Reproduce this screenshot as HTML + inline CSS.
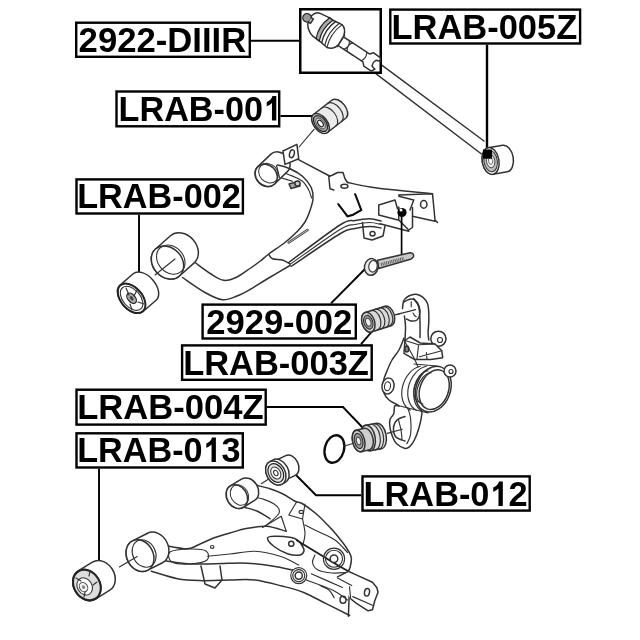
<!DOCTYPE html>
<html><head><meta charset="utf-8">
<style>
html,body{margin:0;padding:0;background:#fff;width:640px;height:640px;overflow:hidden}
svg{display:block}
.lb{font-family:"Liberation Sans",sans-serif;font-weight:bold;font-size:35.5px;fill:#000}
.bx{fill:#fff;stroke:#000;stroke-width:2.4}
.ld{fill:none;stroke:#000;stroke-width:1.9}
.d{fill:none;stroke:#333;stroke-width:1.5;stroke-linejoin:round;stroke-linecap:round}
.dt{fill:none;stroke:#333;stroke-width:1.15;stroke-linejoin:round;stroke-linecap:round}
.w{fill:#fff}
</style></head><body>
<svg width="640" height="640" viewBox="0 0 640 640">
<defs><filter id="bl" x="-5%" y="-5%" width="110%" height="110%"><feGaussianBlur stdDeviation="0.35"/></filter></defs>
<g filter="url(#bl)">
<g id="leaders">
<path class="ld" d="M251 40.8H300"/>
<path class="ld" d="M487 44.7V150" style="stroke-width:2.4"/>
<path class="ld" d="M280.4 116H313"/>
<path class="ld" d="M139 214.7V272"/>
<path class="ld" d="M331 303.4L365 269"/>
<path class="ld" d="M361 344.2L372 331.5"/>
<path class="ld" d="M266.9 407H343L363 428"/>
<path class="ld" d="M99 468.7V561"/>
<path class="ld" d="M361.3 495.2H316L296 475"/>
</g>
<path class="d" d="M370 56.3 L484 141"/>
<path class="d" d="M364 64.7 L481.5 154"/>
<rect x="300.25" y="9.25" width="80.5" height="63.5" style="fill:#fff;stroke:#000;stroke-width:2.5"/>
<g transform="translate(307,17.8) rotate(33.4)">
<path class="d" style="fill:#fff" d="M40 -4.2L72 -4.2L75 -7.5 L83 -7 L85 -4 L81 -2.5 Q79 1 81 4.5 L85 5.5 L83 9 L74 9 L71 6 L40 6 Z"/>
<path class="dt" d="M48 -4.2 Q52 0.8 48 6 M52 -4.2 Q48 0.8 52 6 M69 -4.2 Q72 0.8 69 6"/>
<path class="d" style="fill:#fff" d="M33 -9 L41 -6 L41 7.5 L33 10 Z"/>
<ellipse class="d" cx="37" cy="0.6" rx="3.5" ry="7.5" style="fill:#fff"/>
<path class="d" style="fill:#fff" d="M2.7 -4.5 Q4 -10 8 -10.8 L19 -12.5 L23 -12.2 L33 -13.6 Q39 -12 40.6 -5.2 L41 5 Q40 12 33 13.8 L24 12.6 L14.5 12 Q8 10.5 4 4.7 Z"/>
<path d="M19 -12.5 Q14 0.5 19 12.3 L23 12.5 Q18 0.5 23 -12.2 Z" style="fill:#aaa;stroke:#222;stroke-width:1.2"/>
<path class="d" d="M26 -12.8 Q21 0.5 26 12.8"/>
<path class="dt" d="M30 -13.3 Q25 0.5 30 13.3"/>
<path class="dt" d="M33 -13.6 Q28 0.5 33 13.8"/>
<circle cx="0" cy="0" r="4.2" style="fill:#999;stroke:#222;stroke-width:1.3"/>
<path class="d" style="fill:#ccc" d="M3.8 -2.5 L6 -2.5 L6 2.8 L3.8 2.8"/>
</g>
<path class="d" style="fill:#fff" d="M492.91 174.3L507.31 171.8A8.37 13.5 -9.85 0 0 502.69 145.2L488.29 147.7A8.37 13.5 -9.85 0 0 492.91 174.3Z"/>
<ellipse class="d" style="fill:#fff" cx="490.6" cy="161" rx="8.37" ry="13.5" transform="rotate(-9.85 490.6 161)"/>
<ellipse style="fill:#bbb;stroke:#333;stroke-width:1" cx="490.6" cy="161" rx="6.7" ry="10.8" transform="rotate(-9.85 490.6 161)"/>
<ellipse style="fill:#eee;stroke:#444;stroke-width:0.9" cx="490.6" cy="161" rx="4.18" ry="6.75" transform="rotate(-9.85 490.6 161)"/>
<ellipse style="fill:#fff;stroke:#555;stroke-width:0.8" cx="490.6" cy="161" rx="2.09" ry="3.38" transform="rotate(-9.85 490.6 161)"/>
<rect x="483" y="149.5" width="9" height="9.2" style="fill:#000"/>
<path class="d" d="M195.00 262.50C197.67 264.42 206.21 271.03 211.00 274.00C215.79 276.97 219.58 279.72 223.75 280.30C227.92 280.88 231.62 279.47 236.00 277.50C240.38 275.53 246.00 271.21 250.00 268.50C254.00 265.79 256.88 263.67 260.00 261.25C263.12 258.83 264.58 257.12 268.75 254.00C272.92 250.88 280.21 246.29 285.00 242.50C289.79 238.71 294.17 234.67 297.50 231.25C300.83 227.83 303.00 225.21 305.00 222.00C307.00 218.79 308.17 215.83 309.50 212.00C310.83 208.17 312.71 203.08 313.00 199.00C313.29 194.92 313.00 191.29 311.25 187.50C309.50 183.71 305.83 179.27 302.50 176.25C299.17 173.23 295.62 171.38 291.25 169.40C286.88 167.43 278.75 165.23 276.25 164.40"/>
<path class="d" d="M182.50 277.50C186.25 280.00 198.33 288.78 205.00 292.50C211.67 296.22 217.17 299.22 222.50 299.80C227.83 300.38 232.42 297.72 237.00 296.00C241.58 294.28 244.92 292.38 250.00 289.50C255.08 286.62 260.83 282.75 267.50 278.75C274.17 274.75 286.25 267.71 290.00 265.50"/>
<path class="d" d="M268.75 254.50C269.38 255.21 270.21 257.83 272.50 258.75C274.79 259.67 279.58 259.12 282.50 260.00C285.42 260.88 288.75 263.33 290.00 264.00"/>
<path class="dt" d="M278.75 171.25C280.83 171.97 287.29 173.93 291.25 175.60C295.21 177.27 299.58 178.85 302.50 181.25C305.42 183.65 307.25 187.21 308.75 190.00C310.25 192.79 311.04 196.67 311.50 198.00"/>
<path class="dt" d="M280.00 177.50C282.08 178.12 290.42 180.62 292.50 181.25"/>
<path class="dt" d="M277 165 L280 177.5"/>
<path d="M288.75 242.5 L307.5 230" style="stroke:#444;stroke-width:2.6;stroke-linecap:round"/>
<path d="M288.75 242.5 L307.5 230" style="stroke:#ddd;stroke-width:0.8;stroke-linecap:round"/>
<path class="d" d="M288.75 262.50C297.29 256.25 328.96 232.00 340.00 225.00C351.04 218.00 350.00 221.54 355.00 220.50C360.00 219.46 365.67 218.67 370.00 218.75C374.33 218.83 379.17 220.62 381.00 221.00"/>
<path class="dt" d="M290.00 264.40C298.33 258.57 329.17 236.05 340.00 229.40C350.83 222.75 350.00 225.65 355.00 224.50C360.00 223.35 365.67 222.50 370.00 222.50C374.33 222.50 379.17 224.17 381.00 224.50"/>
<path class="d" d="M291.25 266.25C299.38 260.83 329.38 240.04 340.00 233.75C350.62 227.46 350.00 229.71 355.00 228.50C360.00 227.29 365.67 226.58 370.00 226.50C374.33 226.42 379.17 227.75 381.00 228.00"/>
<path class="d" d="M298 159.4 L330 176.25"/>
<path class="d" d="M347.50 182.50C351.25 183.23 361.25 185.55 370.00 186.90C378.75 188.25 389.58 189.46 400.00 190.60C410.42 191.74 427.08 193.22 432.50 193.75"/>
<path class="d" d="M328.75 176.25 L330 188.75 L333.75 190 M332.5 175 L337.5 172.5 L343 172.5 L345 178.75 L347.5 182.5 M330 176 L333 175"/>
<ellipse class="d" style="fill:#fff" cx="344.4" cy="186.25" rx="3.5" ry="2" transform="rotate(0 344.4 186.25)"/>
<path class="d" d="M398.75 195 L432.5 193.75 L435 220 L437.5 222.5 M435 221.25 L412.5 216.25 M398.75 196.25 L413.75 200 L410 210"/>
<ellipse class="d" style="fill:none" cx="423.75" cy="204.4" rx="3.2" ry="3.8" transform="rotate(0 423.75 204.4)"/>
<path class="d" d="M378.75 205 L395 200 L397.5 208.75 M378.75 205 L378.75 215 L398 220 M398.75 207 L398.75 220 L408.75 230 L412.5 227.5 L412.5 207.5 M380 223.75 L408.75 231.25"/>
<path class="d" d="M338 203.75 L347.5 216.25 L352.5 215 L361.25 210 L355 193.75"/>
<path d="M338 203.75 L347.5 216.25 L352.5 215 L361.25 210 L355 193.75" style="fill:none;stroke:#111;stroke-width:2"/>
<path class="d" d="M362.5 222.5 L364 238 L372 240 L383 236 L385 226"/>
<ellipse class="d" style="fill:none" cx="372.5" cy="233.75" rx="2.5" ry="2.2" transform="rotate(0 372.5 233.75)"/>
<path d="M401.6 212 V256" style="stroke:#000;stroke-width:1.7"/>
<circle cx="402" cy="212.5" r="4.6" style="fill:#000"/>
<circle cx="401" cy="210" r="1.5" style="fill:#fff"/>
<path class="d" style="fill:#c8c8c8" d="M377.5 260.2 L410 252.8 Q414.5 253 413.5 256.8 L411.25 259 L378.75 268.5 Z"/>
<path d="M381 264.5 L404 258.5" style="stroke:#555;stroke-width:3.2;stroke-dasharray:0.9 0.9"/>
<ellipse class="d" style="fill:#e8e8e8" cx="371.25" cy="266.9" rx="6.8" ry="8.4" transform="rotate(10 371.25 266.9)"/>
<ellipse class="dt" style="fill:#fff" cx="373" cy="266.3" rx="4.2" ry="5.8" transform="rotate(10 373 266.3)"/>
<path class="d" style="fill:#fff" d="M274.58 183.94L287.33 171.64A10.2 12 -43.97 0 0 270.67 154.36L257.92 166.66A10.2 12 -43.97 0 0 274.58 183.94Z"/>
<ellipse class="d" style="fill:#fff" cx="266.25" cy="175.3" rx="10.2" ry="12" transform="rotate(-43.97 266.25 175.3)"/>
<ellipse style="fill:none;stroke:#333;stroke-width:1" cx="268.45" cy="173.18" rx="8.98" ry="10.56" transform="rotate(-43.97 268.45 173.18)"/>
<path class="d" style="fill:#fff" d="M283 151 L296.9 144.4 L298.75 158.75 L285 164.4 Z"/>
<ellipse class="d" style="fill:none" cx="291.9" cy="153.75" rx="2.3" ry="4" transform="rotate(15 291.9 153.75)"/>
<path class="d" style="fill:#aaa" d="M289 184 L298 181.5 L300 186 L291 188.5 Z"/>
<circle cx="297.5" cy="183.5" r="2.6" class="d" style="fill:#ccc"/>
<path class="d" d="M277.50 165.00C278.58 165.25 281.71 165.77 284.00 166.50C286.29 167.23 289.08 168.40 291.25 169.40C293.42 170.40 296.04 171.98 297.00 172.50"/>
<path class="dt" d="M276.5 165.5 L279.5 177.5"/>
<path class="d" style="fill:#fff" d="M179.48 275.94L194.18 262.84A14.58 18 -41.71 0 0 170.22 235.96L155.52 249.06A14.58 18 -41.71 0 0 179.48 275.94Z"/>
<ellipse class="d" style="fill:#fff" cx="167.5" cy="262.5" rx="14.58" ry="18" transform="rotate(-41.71 167.5 262.5)"/>
<ellipse style="fill:none;stroke:#333;stroke-width:1.1" cx="170.77" cy="259.59" rx="12.83" ry="15.84" transform="rotate(-41.71 170.77 259.59)"/>
<path class="d" style="fill:#ebebeb" d="M327.53 132.47L346.03 117.97A6.84 11.4 -38.09 0 0 331.97 100.03L313.47 114.53A6.84 11.4 -38.09 0 0 327.53 132.47Z"/>
<path class="dt" d="M335.86 125.95A6.84 11.4 -38.09 0 0 321.79 108"/>
<path class="dt" d="M341.41 121.6A6.84 11.4 -38.09 0 0 327.34 103.65"/>
<ellipse class="d" style="fill:#ebebeb" cx="320.5" cy="123.5" rx="6.84" ry="11.4" transform="rotate(-38.09 320.5 123.5)"/>
<ellipse style="fill:#aaa;stroke:#222;stroke-width:1.2" cx="320.5" cy="123.5" rx="5.47" ry="9.12" transform="rotate(-38.09 320.5 123.5)"/>
<ellipse style="fill:#ddd;stroke:#444;stroke-width:0.9" cx="320.5" cy="123.5" rx="3.76" ry="6.27" transform="rotate(-38.09 320.5 123.5)"/>
<ellipse style="fill:#fff;stroke:#222;stroke-width:1.2" cx="320.5" cy="123.5" rx="2.19" ry="3.65" transform="rotate(-38.09 320.5 123.5)"/>
<path class="dt" d="M314 129.4 L299 147"/>
<path class="d" style="fill:#fff" d="M143.08 311.51L156.08 300.21A10.85 17.5 -41 0 0 133.12 273.79L120.12 285.09A10.85 17.5 -41 0 0 143.08 311.51Z"/>
<ellipse class="d" style="fill:#fff" cx="131.6" cy="298.3" rx="10.85" ry="17.5" transform="rotate(-41 131.6 298.3)"/>
<ellipse style="fill:none;stroke:#222;stroke-width:1.6" cx="131.6" cy="298.3" rx="10.52" ry="16.97" transform="rotate(-41 131.6 298.3)"/>
<ellipse style="fill:#fff;stroke:#333;stroke-width:1.1" cx="131.6" cy="298.3" rx="8.68" ry="14" transform="rotate(-41 131.6 298.3)"/>
<ellipse style="fill:#aaa;stroke:#222;stroke-width:1.2" cx="131.6" cy="298.3" rx="3.69" ry="5.95" transform="rotate(-41 131.6 298.3)"/>
<ellipse style="fill:#444;stroke:none" cx="131.6" cy="298.3" rx="1.52" ry="2.45" transform="rotate(-41 131.6 298.3)"/>
<path class="dt" d="M126 288 L129 295 M137 290 L134 296 M130 304 L132 310 M138 302 L144 304"/>
<path class="dt" d="M155 275 L175 259"/>
<path class="d" d="M404.00 338.00C403.17 340.00 401.00 346.33 399.00 350.00C397.00 353.67 394.00 356.50 392.00 360.00C390.00 363.50 388.42 367.50 387.00 371.00C385.58 374.50 384.00 377.33 383.50 381.00C383.00 384.67 383.08 389.83 384.00 393.00C384.92 396.17 387.00 398.17 389.00 400.00C391.00 401.83 394.33 403.00 396.00 404.00C397.67 405.00 398.50 405.67 399.00 406.00"/>
<path class="d" d="M399.00 406.00C398.28 406.00 395.57 404.71 394.70 406.00C393.82 407.29 394.53 411.52 393.75 413.75C392.97 415.98 390.62 417.06 390.00 419.40C389.38 421.74 389.53 424.83 390.00 427.80C390.47 430.77 391.70 434.54 392.80 437.20C393.90 439.86 394.57 441.88 396.60 443.75C398.63 445.62 402.82 447.92 405.00 448.40C407.18 448.88 408.13 448.00 409.70 446.60C411.27 445.20 412.85 443.13 414.40 440.00C415.95 436.87 417.75 432.18 419.00 427.80C420.25 423.43 421.57 416.72 421.90 413.75C422.23 410.78 421.15 410.62 421.00 410.00"/>
<path class="dt" d="M407.80 408.00C408.27 409.73 410.13 414.00 410.60 418.40C411.07 422.80 411.22 430.17 410.60 434.40C409.98 438.62 407.52 442.19 406.90 443.75"/>
<path class="d" d="M402.50 308.60C402.71 307.25 402.71 302.60 403.75 300.50C404.79 298.40 406.67 297.04 408.75 296.00C410.83 294.96 413.88 294.02 416.25 294.25C418.62 294.48 421.12 295.84 423.00 297.40C424.88 298.96 426.54 301.00 427.50 303.60C428.46 306.20 428.54 309.85 428.75 313.00C428.96 316.15 428.86 319.25 428.75 322.50C428.64 325.75 428.10 329.58 428.10 332.50C428.10 335.42 428.64 338.75 428.75 340.00"/>
<path class="d" d="M404.40 316.00C404.58 317.71 405.40 322.25 405.50 326.25C405.60 330.25 405.08 337.71 405.00 340.00"/>
<path class="d" d="M413.75 298.60C414.58 299.96 417.71 302.85 418.75 306.75C419.79 310.65 419.79 316.88 420.00 322.00C420.21 327.12 420.00 334.92 420.00 337.50"/>
<path class="d" d="M404.00 302.00C404.83 301.58 407.33 299.92 409.00 299.50C410.67 299.08 412.33 298.42 414.00 299.50C415.67 300.58 418.03 303.58 419.00 306.00C419.97 308.42 420.13 311.67 419.80 314.00C419.47 316.33 418.47 318.83 417.00 320.00C415.53 321.17 412.75 321.17 411.00 321.00C409.25 320.83 407.25 319.33 406.50 319.00"/>
<path class="dt" d="M411.25 301.75 L411.25 306.75"/>
<path class="dt" d="M413.00 313.00C413.25 313.42 413.96 314.88 414.50 315.50C415.04 316.12 415.96 316.54 416.25 316.75"/>
<path class="dt" d="M395 314.9 L415.6 309.6"/>
<circle cx="438.4" cy="338.75" r="7.6" class="d" style="fill:#fff"/>
<circle cx="440" cy="340" r="2.5" class="dt" style="fill:#fff"/>
<path class="d" style="fill:#fff" d="M404.9 340.5 L410 337 L420.3 343 L435 344 L441.8 350.8 L442.7 357.7 L430.7 359.4 L414.3 359.4 L404 353.4 Z"/>
<path class="dt" d="M404.9 340.5 L418.6 344.8 L435 344 M418.6 344.8 L416.9 359.4 M426.4 352.5 L427 359.4 M419.5 356.8 L441.8 350.8"/>
<ellipse class="d" style="fill:#888" cx="406.8" cy="349" rx="2" ry="3" transform="rotate(0 406.8 349)"/>
<path class="dt" d="M420.3 366.2 A17.1 23.5 20 0 0 410.3 410.2"/>
<path class="dt" d="M426.3 366.2 A17.1 23.5 20 0 0 416.3 410.2"/>
<path class="dt" d="M432.3 367.2 A17.1 23.5 20 0 0 422.3 411.2"/>
<path class="dt" d="M414 364 L437 366"/>
<path class="dt" d="M400 406 L428 413"/>
<path class="dt" d="M404.00 340.00C405.67 343.00 411.67 353.50 414.00 358.00C416.33 362.50 417.33 365.50 418.00 367.00"/>
<ellipse class="d" style="fill:#fff" cx="433.3" cy="389.2" rx="17.1" ry="23.5" transform="rotate(20 433.3 389.2)"/>
<ellipse class="d" style="fill:#fff" cx="434.2" cy="389.6" rx="14.2" ry="20.5" transform="rotate(20 434.2 389.6)"/>
<path class="dt" d="M428 371 A8 14 20 0 0 420 402"/>
<path class="dt" d="M431 373 A8 14 20 0 0 423 404"/>
<circle cx="450" cy="371" r="6" class="d" style="fill:#fff"/>
<circle cx="451" cy="371.5" r="2" class="dt" style="fill:#fff"/>
<ellipse class="d" style="fill:#fff" cx="388" cy="386" rx="6" ry="8" transform="rotate(10 388 386)"/>
<ellipse class="dt" style="fill:#fff" cx="387.5" cy="386.25" rx="3" ry="4.5" transform="rotate(10 387.5 386.25)"/>
<path class="d" d="M405.00 416.50C403.67 417.08 398.92 418.08 397.00 420.00C395.08 421.92 393.67 425.17 393.50 428.00C393.33 430.83 394.08 434.83 396.00 437.00C397.92 439.17 403.50 440.33 405.00 441.00"/>
<path class="dt" d="M398.50 420.00C398.92 421.67 400.42 426.83 401.00 430.00C401.58 433.17 401.83 437.50 402.00 439.00"/>
<path class="dt" d="M387.2 433.4 L402.2 429.2"/>
<path class="d" style="fill:#dadada" d="M371.36 331.93L391.06 325.73A6.32 10.2 -17.47 0 0 384.94 306.27L365.24 312.47A6.32 10.2 -17.47 0 0 371.36 331.93Z"/>
<path class="dt" d="M377.27 330.07A6.32 10.2 -17.47 0 0 371.15 310.61"/>
<path class="dt" d="M381.21 328.83A6.32 10.2 -17.47 0 0 375.09 309.37"/>
<path class="dt" d="M385.55 327.47A6.32 10.2 -17.47 0 0 379.42 308.01"/>
<path class="dt" d="M389.09 326.35A6.32 10.2 -17.47 0 0 382.97 306.89"/>
<ellipse class="d" style="fill:#dadada" cx="368.3" cy="322.2" rx="6.32" ry="10.2" transform="rotate(-17.47 368.3 322.2)"/>
<ellipse style="fill:#999;stroke:#222;stroke-width:1" cx="368.3" cy="322.2" rx="4.43" ry="7.14" transform="rotate(-17.47 368.3 322.2)"/>
<ellipse style="fill:#eee;stroke:#444;stroke-width:1" cx="368.3" cy="322.2" rx="2.53" ry="4.08" transform="rotate(-17.47 368.3 322.2)"/>
<path class="dt" d="M396 314.7 L400 313.8"/>
<ellipse cx="334.4" cy="449" rx="9.6" ry="14" transform="rotate(15 334.4 449)" style="fill:none;stroke:#111;stroke-width:2.4"/>
<path class="dt" d="M345.3 445.8 L356.3 442.5"/>
<path class="d" style="fill:#dedede" d="M370.33 450.79L381.33 448.79A7.15 13 -10.3 0 0 376.67 423.21L365.67 425.21A7.15 13 -10.3 0 0 370.33 450.79Z"/>
<path class="dt" d="M375.28 449.89A7.15 13 -10.3 0 0 370.62 424.31"/>
<path class="dt" d="M378.58 449.29A7.15 13 -10.3 0 0 373.92 423.71"/>
<ellipse class="d" style="fill:#dedede" cx="368" cy="438" rx="7.15" ry="13" transform="rotate(-10.3 368 438)"/>
<path class="d" style="fill:#cfcfcf" d="M361.15 451.7L369.55 449.7A6.05 11 -13.39 0 0 364.45 428.3L356.05 430.3A6.05 11 -13.39 0 0 361.15 451.7Z"/>
<ellipse class="d" style="fill:#cfcfcf" cx="358.6" cy="441" rx="6.05" ry="11" transform="rotate(-13.39 358.6 441)"/>
<ellipse style="fill:#999;stroke:#222;stroke-width:1" cx="358.6" cy="441" rx="4.24" ry="7.7" transform="rotate(-13.39 358.6 441)"/>
<ellipse style="fill:#eee;stroke:#444;stroke-width:1" cx="358.6" cy="441" rx="2.12" ry="3.85" transform="rotate(-13.39 358.6 441)"/>
<path class="d" d="M162.50 545.00C166.57 545.62 180.98 548.75 186.90 548.75C192.82 548.75 193.32 546.88 198.00 545.00C202.68 543.12 209.04 539.68 215.00 537.50C220.96 535.32 228.75 533.36 233.75 531.90C238.75 530.44 239.58 529.69 245.00 528.75C250.42 527.81 259.38 525.83 266.25 526.25C273.12 526.67 282.92 530.42 286.25 531.25"/>
<path class="dt" d="M207.50 556.25C211.25 555.88 222.08 554.83 230.00 554.00C237.92 553.17 246.67 550.88 255.00 551.25C263.33 551.62 272.71 553.96 280.00 556.25C287.29 558.54 295.62 563.54 298.75 565.00"/>
<path class="d" d="M158.75 560.00C163.44 560.62 177.53 563.12 186.90 563.75C196.28 564.38 206.15 563.88 215.00 563.75C223.85 563.62 233.33 563.00 240.00 563.00C246.67 563.00 249.38 563.21 255.00 563.75C260.62 564.29 267.50 565.21 273.75 566.25C280.00 567.29 289.38 569.38 292.50 570.00"/>
<path class="dt" d="M306.25 580.00C310.62 581.67 325.62 586.67 332.50 590.00C339.38 593.33 345.00 598.33 347.50 600.00"/>
<path class="dt" d="M311.25 573.75C316.46 576.04 337.29 585.21 342.50 587.50"/>
<path class="d" d="M151.25 571.25C155.62 572.50 169.38 577.19 177.50 578.75C185.62 580.31 191.25 580.39 200.00 580.60C208.75 580.81 220.83 580.10 230.00 580.00C239.17 579.90 246.35 579.00 255.00 580.00C263.65 581.00 273.77 583.92 281.90 586.00C290.02 588.08 296.47 589.60 303.75 592.50C311.03 595.40 317.94 599.57 325.60 603.40C333.26 607.23 345.68 613.48 349.70 615.50"/>
<path class="d" d="M349.5 586.7 L348.4 616.25"/>
<path class="dt" d="M170.00 552.00C173.00 549.83 184.00 549.17 190.00 549.00C196.00 548.83 203.17 549.17 206.00 551.00C208.83 552.83 209.67 557.83 207.00 560.00C204.33 562.17 195.83 563.67 190.00 564.00C184.17 564.33 175.33 564.00 172.00 562.00C168.67 560.00 167.00 554.17 170.00 552.00Z"/>
<ellipse class="dt" style="fill:none" cx="212.2" cy="546.9" rx="1.8" ry="1.4" transform="rotate(0 212.2 546.9)"/>
<path class="d" d="M201 566 L205 584 L215 588 L222 580 L220 566"/>
<path class="dt" d="M257.50 485.00C256.46 485.21 252.71 485.42 251.25 486.25C249.79 487.08 249.06 488.33 248.75 490.00C248.44 491.67 249.29 495.21 249.40 496.25"/>
<path class="d" d="M257.50 485.60C259.58 486.12 265.83 487.39 270.00 488.75C274.17 490.11 278.33 491.67 282.50 493.75C286.67 495.83 291.67 499.58 295.00 501.25C298.33 502.92 298.75 501.46 302.50 503.75C306.25 506.04 312.92 511.04 317.50 515.00C322.08 518.96 327.08 524.50 330.00 527.50C332.92 530.50 332.29 529.67 335.00 533.00C337.71 536.33 343.54 543.42 346.25 547.50C348.96 551.58 350.62 554.17 351.25 557.50C351.88 560.83 350.62 565.08 350.00 567.50C349.38 569.92 347.92 571.25 347.50 572.00"/>
<path class="dt" d="M251.25 496.25C253.33 496.77 260.00 498.15 263.75 499.40C267.50 500.65 271.25 502.19 273.75 503.75C276.25 505.31 277.92 507.08 278.75 508.75C279.58 510.42 280.00 511.67 278.75 513.75C277.50 515.83 273.54 519.17 271.25 521.25C268.96 523.33 266.04 525.42 265.00 526.25"/>
<path class="d" d="M245.00 507.50C247.08 508.12 253.33 509.38 257.50 511.25C261.67 513.12 267.92 517.50 270.00 518.75"/>
<path class="dt" d="M262.5 527.5 L281.25 516.25 L286.25 531.25"/>
<path class="dt" d="M305.00 525.00C307.08 526.04 312.50 528.75 317.50 531.25C322.50 533.75 330.00 536.46 335.00 540.00C340.00 543.54 345.42 550.42 347.50 552.50"/>
<path class="dt" d="M296.25 502.5 L288.75 515 L302.5 519 L305 504"/>
<ellipse class="dt" style="fill:none" cx="301.25" cy="511.9" rx="2.2" ry="1.5" transform="rotate(0 301.25 511.9)"/>
<path class="dt" d="M302.50 518.75C302.92 521.25 305.00 529.17 305.00 533.75C305.00 538.33 303.33 542.71 302.50 546.25C301.67 549.79 300.42 553.54 300.00 555.00"/>
<path class="dt" d="M315.00 555.00C314.58 556.25 312.00 560.00 312.50 562.50C313.00 565.00 314.75 568.25 318.00 570.00C321.25 571.75 327.08 572.58 332.00 573.00C336.92 573.42 344.92 572.58 347.50 572.50"/>
<path class="d" style="fill:#fff" d="M267.50 538.00C267.71 536.33 271.04 536.33 275.00 536.25C278.96 536.17 287.50 536.88 291.25 537.50C295.00 538.12 295.62 538.54 297.50 540.00C299.38 541.46 301.42 544.42 302.50 546.25C303.58 548.08 304.42 549.54 304.00 551.00C303.58 552.46 302.75 554.54 300.00 555.00C297.25 555.46 291.88 555.21 287.50 553.75C283.12 552.29 277.08 548.88 273.75 546.25C270.42 543.62 267.29 539.67 267.50 538.00Z"/>
<ellipse class="d" style="fill:none" cx="291.25" cy="543.75" rx="2.6" ry="2.6" transform="rotate(0 291.25 543.75)"/>
<path d="M296.25 540 C301 543 316 552 325 557.5 C333 562.5 342 568 350 572" style="fill:none;stroke:#222;stroke-width:1.9"/>
<circle cx="334" cy="558.75" r="10.6" class="dt" style="fill:none"/>
<circle cx="334" cy="558.75" r="8.5" class="dt" style="fill:none"/>
<circle cx="334" cy="558.75" r="3.8" class="d" style="fill:#fff"/>
<circle cx="298.75" cy="575.6" r="8" class="dt" style="fill:#fff"/>
<circle cx="298.75" cy="575.6" r="6" class="dt" style="fill:none"/>
<circle cx="298.75" cy="575.6" r="3.6" class="d" style="fill:none"/>
<ellipse class="d" style="fill:none" cx="343" cy="599.8" rx="3" ry="3.5" transform="rotate(0 343 599.8)"/>
<path class="d" style="fill:#fff" d="M337.5 576.9 L348.4 571.4 L372.5 582.3 L376.9 587.8 L378 592.2 L374.7 601 L372.5 609.7 L368.1 610.8 L356.1 603.1 L350.6 598.75"/>
<path class="dt" d="M337.5 578 L351.7 585.6 M349.5 586.7 L350.6 597.7 M352.8 596.6 L372.5 605.3"/>
<ellipse class="d" style="fill:none" cx="367" cy="592.2" rx="2.5" ry="3.8" transform="rotate(10 367 592.2)"/>
<path class="dt" d="M320.00 585.60C321.50 586.33 326.63 587.98 329.00 590.00C331.37 592.02 333.33 596.42 334.20 597.70"/>
<path class="d" style="fill:#fff" d="M243.43 507.26L254.53 500.46A10 12.5 -31.49 0 0 241.47 479.14L230.37 485.94A10 12.5 -31.49 0 0 243.43 507.26Z"/>
<ellipse class="d" style="fill:#fff" cx="236.9" cy="496.6" rx="10" ry="12.5" transform="rotate(-31.49 236.9 496.6)"/>
<ellipse style="fill:none;stroke:#333;stroke-width:1" cx="239.46" cy="495.03" rx="8.6" ry="10.75" transform="rotate(-31.49 239.46 495.03)"/>
<path class="dt" d="M261.25 483.75 L275 475"/>
<path class="d" style="fill:#fff" d="M147.46 570.32L162.46 562.72A13.2 16.5 -26.87 0 0 147.54 533.28L132.54 540.88A13.2 16.5 -26.87 0 0 147.46 570.32Z"/>
<ellipse class="d" style="fill:#fff" cx="140" cy="555.6" rx="13.2" ry="16.5" transform="rotate(-26.87 140 555.6)"/>
<ellipse style="fill:none;stroke:#333;stroke-width:1.1" cx="144.12" cy="553.51" rx="11.35" ry="14.19" transform="rotate(-26.87 144.12 553.51)"/>
<path class="d" style="fill:#fff" d="M284.73 480.43L295.23 475.43A7.92 11 -25.46 0 0 285.77 455.57L275.27 460.57A7.92 11 -25.46 0 0 284.73 480.43Z"/>
<path class="d" style="fill:#fff" d="M282.08 484.16L285.28 482.36A9.22 12.8 -29.36 0 0 272.72 460.04L269.52 461.84A9.22 12.8 -29.36 0 0 282.08 484.16Z"/>
<ellipse class="d" style="fill:#fff" cx="275.8" cy="473" rx="9.22" ry="12.8" transform="rotate(-29.36 275.8 473)"/>
<ellipse style="fill:#e4e4e4;stroke:#222;stroke-width:1.2" cx="275.8" cy="473" rx="7.19" ry="9.98" transform="rotate(-29.36 275.8 473)"/>
<ellipse style="fill:#fff;stroke:#333;stroke-width:1" cx="275.8" cy="473" rx="4.61" ry="6.4" transform="rotate(-29.36 275.8 473)"/>
<ellipse style="fill:#fff;stroke:#333;stroke-width:1.1" cx="275.8" cy="473" rx="2.03" ry="2.82" transform="rotate(-29.36 275.8 473)"/>
<path class="d" style="fill:#fff" d="M95.59 599.03L109.79 590.23A13.2 16.5 -31.79 0 0 92.41 562.17L78.21 570.97A13.2 16.5 -31.79 0 0 95.59 599.03Z"/>
<ellipse class="d" style="fill:#ddd" cx="86.9" cy="585" rx="13.2" ry="16.5" transform="rotate(-31.79 86.9 585)"/>
<ellipse style="fill:none;stroke:#222;stroke-width:1.8" cx="86.9" cy="585" rx="12.8" ry="16" transform="rotate(-31.79 86.9 585)"/>
<ellipse style="fill:#fff;stroke:#333;stroke-width:1.1" cx="84.66" cy="586.39" rx="7.26" ry="9.08" transform="rotate(-31.79 84.66 586.39)"/>
<ellipse style="fill:#f4f4f4;stroke:#444;stroke-width:1" cx="83.53" cy="587.09" rx="3.96" ry="4.95" transform="rotate(-31.79 83.53 587.09)"/>
<ellipse style="fill:#888;stroke:none" cx="83.53" cy="587.09" rx="1.58" ry="1.98" transform="rotate(-31.79 83.53 587.09)"/>
<path class="dt" d="M76 578 L81 581 M90 571 L89 576 M97 582 L93 585 M84 597 L85 592"/>
<path class="dt" d="M119.4 566.9 L137.2 556.6"/>
<rect class="bx" x="76.20" y="22.70" width="173.60" height="34.10"/>
<g transform="translate(78.60,52.10) scale(0.9770,1)"><text class="lb" x="0" y="0">2922-DIIIR</text></g>
<rect class="bx" x="390.30" y="9.60" width="189.80" height="33.90"/>
<g transform="translate(391.49,39.00) scale(0.9711,1)"><text class="lb" x="0" y="0">LRAB-005Z</text></g>
<rect class="bx" x="116.50" y="91.50" width="162.70" height="34.80"/>
<g transform="translate(118.61,120.50) scale(0.9633,1)"><text class="lb" x="0" y="0">LRAB-00 </text><path d="M796 0L537 0L537 1013C442 924 330 858 223 826L223 1070C300 1096 380 1140 440 1200C500 1260 545 1330 570 1409L796 1409Z" transform="translate(149.90,0) scale(0.01733,-0.01733)"/></g>
<rect class="bx" x="76.50" y="179.40" width="166.40" height="34.10"/>
<g transform="translate(77.21,208.30) scale(0.9647,1)"><text class="lb" x="0" y="0">LRAB-002</text></g>
<rect class="bx" x="202.60" y="304.60" width="153.20" height="33.90"/>
<g transform="translate(206.20,334.00) scale(0.9744,1)"><text class="lb" x="0" y="0">2929-002</text></g>
<rect class="bx" x="182.10" y="345.40" width="189.60" height="34.40"/>
<g transform="translate(183.20,374.80) scale(0.9705,1)"><text class="lb" x="0" y="0">LRAB-003Z</text></g>
<rect class="bx" x="76.50" y="389.70" width="189.20" height="34.90"/>
<g transform="translate(77.19,419.10) scale(0.9743,1)"><text class="lb" x="0" y="0">LRAB-004Z</text></g>
<rect class="bx" x="76.50" y="433.30" width="166.30" height="34.20"/>
<g transform="translate(77.21,462.00) scale(0.9633,1)"><text class="lb" x="0" y="0">LRAB-0 3</text><path d="M796 0L537 0L537 1013C442 924 330 858 223 826L223 1070C300 1096 380 1140 440 1200C500 1260 545 1330 570 1409L796 1409Z" transform="translate(130.16,0) scale(0.01733,-0.01733)"/></g>
<rect class="bx" x="362.50" y="476.40" width="167.20" height="34.20"/>
<g transform="translate(363.60,506.00) scale(0.9671,1)"><text class="lb" x="0" y="0">LRAB-0 2</text><path d="M796 0L537 0L537 1013C442 924 330 858 223 826L223 1070C300 1096 380 1140 440 1200C500 1260 545 1330 570 1409L796 1409Z" transform="translate(130.16,0) scale(0.01733,-0.01733)"/></g>
</g>
</svg>
</body></html>
